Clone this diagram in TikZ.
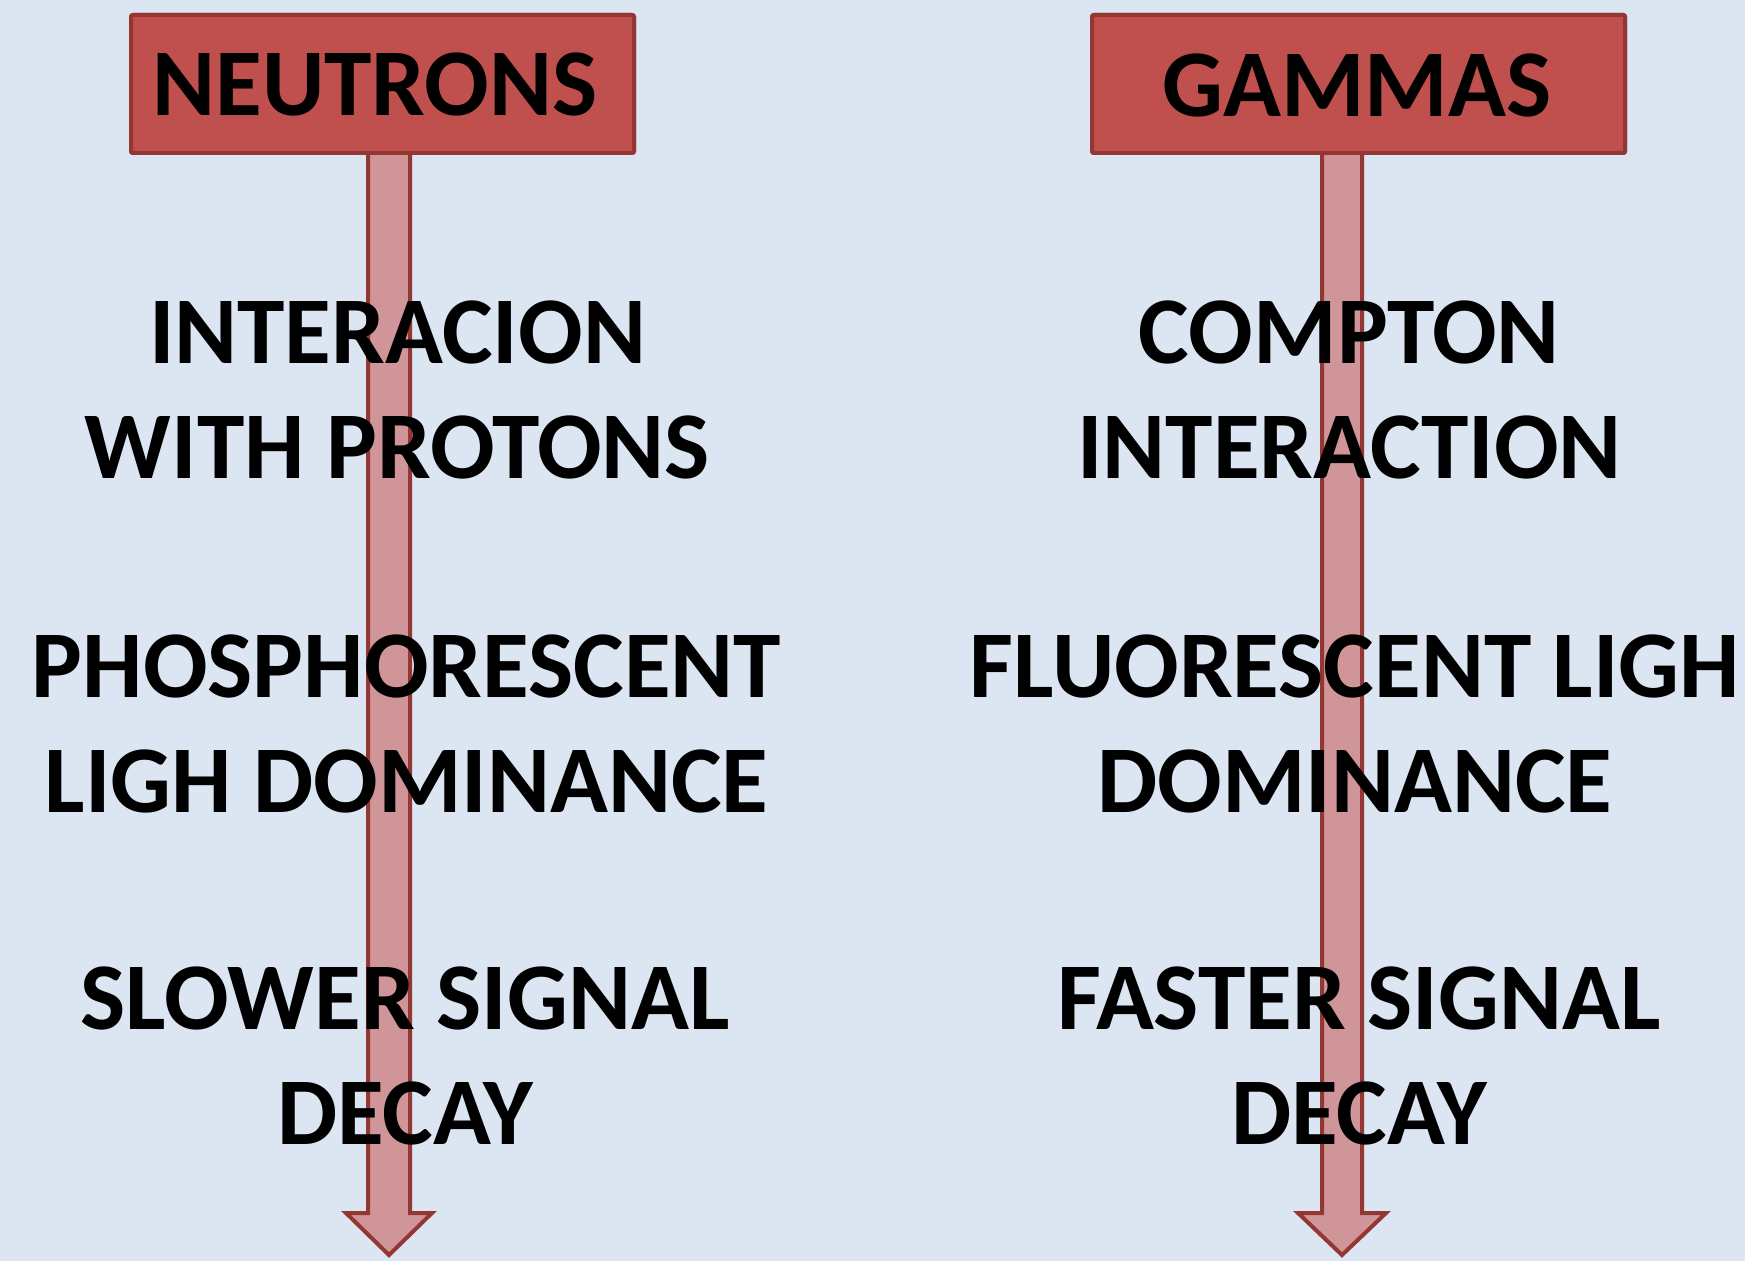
\documentclass[tikz,border=0pt]{standalone}
\usepackage{fontspec}
\setmainfont{Carlito}
\usetikzlibrary{calc}
\definecolor{bgblue}{HTML}{DCE6F2}
\definecolor{boxred}{HTML}{C0504D}
\definecolor{edgered}{HTML}{943634}
\definecolor{shaftpink}{HTML}{D09598}
\newcommand{\bigbold}{\fontsize{47.8}{57.5}\selectfont\bfseries}
\tikzset{
  headbox/.style={draw=edgered, fill=boxred, line width=2pt, rounded corners=1pt,
    minimum height=69pt, inner sep=0pt},
  arrowbody/.style={draw=edgered, fill=shaftpink, line width=2pt, line join=miter},
  title/.style={inner sep=0pt, text=black, font=\bigbold},
  caption/.style={align=center, anchor=north, inner sep=0pt, text=black, font=\bigbold}
}
\begin{document}
\begin{tikzpicture}[x=0.5pt, y=-0.5pt]
  % page background
  \fill[bgblue] (0,0) rectangle (1745,1261);
  \useasboundingbox (0,0) rectangle (1745,1261);

  % header boxes
  \node[headbox, minimum width=251.5pt] (nbox) at (382.5,84) {};
  \node[headbox, minimum width=266.5pt] (gbox) at (1358.5,84) {};

  % arrow tips
  \coordinate (ntip) at (389,1255);
  \coordinate (gtip) at (1342,1255);

  % downward arrows from each box
  \draw[arrowbody]
    ($(nbox.south -| ntip)+(-21,0)$) -- ($(ntip)+(-21,-42)$) -- ($(ntip)+(-43,-42)$)
    -- (ntip) -- ($(ntip)+(43,-42)$) -- ($(ntip)+(21,-42)$)
    -- ($(nbox.south -| ntip)+(21,0)$);
  \draw[arrowbody]
    ($(gbox.south -| gtip)+(-20,0)$) -- ($(gtip)+(-20,-42)$) -- ($(gtip)+(-44,-42)$)
    -- (gtip) -- ($(gtip)+(44,-42)$) -- ($(gtip)+(20,-42)$)
    -- ($(gbox.south -| gtip)+(20,0)$);

  % box frames and titles on top of the arrow shafts
  \node[headbox, minimum width=251.5pt] at (nbox) {};
  \node[headbox, minimum width=266.5pt] at (gbox) {};
  \node[title] (ntitle) at (375,85) {NEUTRONS};
  \node[title] (gtitle) at (1357,85) {GAMMAS};

  % neutron column
  \node[caption] (n1) at (397.5,300) {INTERACION\\WITH PROTONS};
  \node[caption] (n2) at (406.5,634) {PHOSPHORESCENT\\LIGH DOMINANCE};
  \node[caption] (n3) at (405,966) {SLOWER SIGNAL\\DECAY};

  % gamma column
  \node[caption] (g1) at (1349.5,300) {COMPTON\\INTERACTION};
  \node[caption] (g2) at (1355,634) {FLUORESCENT LIGH\\DOMINANCE};
  \node[caption] (g3) at (1359,966) {FASTER SIGNAL\\DECAY};
\end{tikzpicture}
\end{document}
